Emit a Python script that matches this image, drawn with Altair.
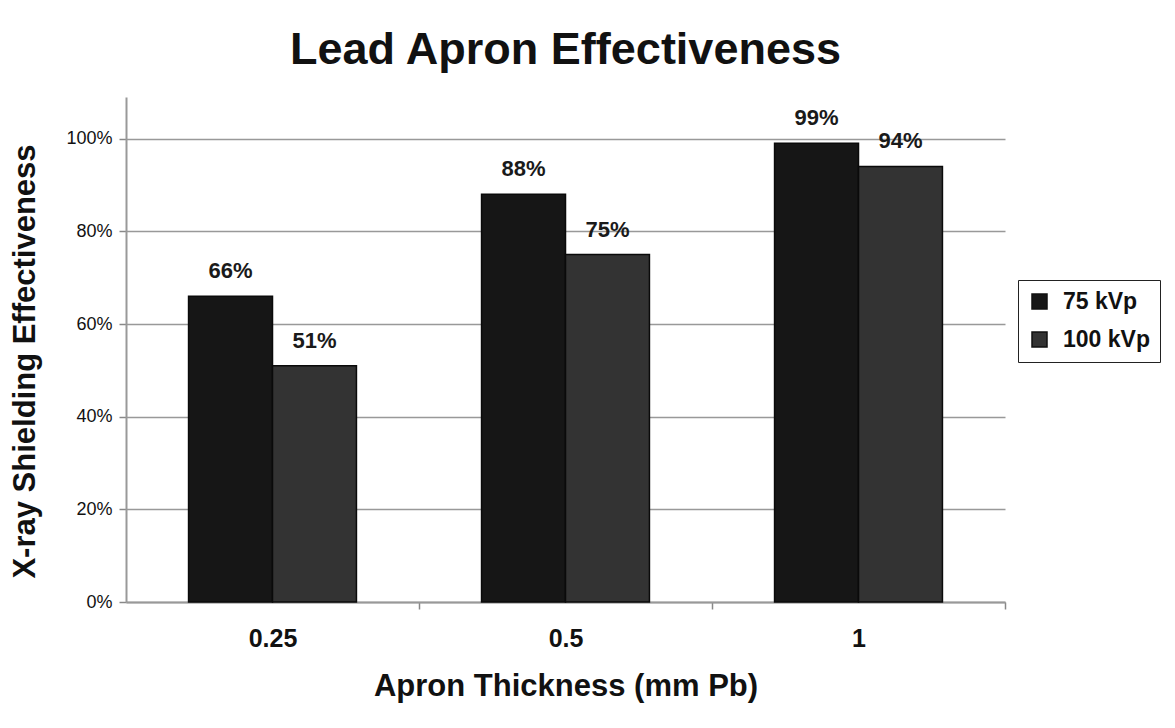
import altair as alt
import pandas as pd

thickness = ["0.25", "0.5", "1"]
series = ["75 kVp", "100 kVp"]
v75 = [0.66, 0.88, 0.99]
v100 = [0.51, 0.75, 0.94]
colors = ["#161616", "#333333"]
y_ticks = [0, 0.2, 0.4, 0.6, 0.8, 1.0]

rows = []
for t, a, b in zip(thickness, v75, v100):
    rows.append({"thickness": t, "series": series[0], "value": a})
    rows.append({"thickness": t, "series": series[1], "value": b})
df = pd.DataFrame(rows)

FONT = "Liberation Sans"
STEP_HALF = 146.5

x = alt.X("thickness:N", sort=thickness,
          scale=alt.Scale(paddingInner=0.427, paddingOuter=0.2135),
          axis=alt.Axis(title="Apron Thickness (mm Pb)", labelAngle=0,
                        labelFontSize=25, labelFontWeight="bold", labelFont=FONT,
                        labelColor="#111", labelPadding=17,
                        titleFontSize=31, titleFont=FONT, titleFontWeight="bold",
                        titleColor="#111", titlePadding=20,
                        tickOffset=STEP_HALF, labelOffset=-STEP_HALF,
                        tickSize=7, tickColor="#888", tickWidth=1.5,
                        domainColor="#999", domainWidth=2))
xo = alt.XOffset("series:N", sort=series, scale=alt.Scale(paddingInner=0, paddingOuter=0))
y = alt.Y("value:Q", scale=alt.Scale(domain=[0, 1.09], nice=False),
          axis=alt.Axis(title="X-ray Shielding Effectiveness", format=".0%", values=y_ticks,
                        labelFontSize=18, labelFont=FONT, labelColor="#111", labelPadding=7,
                        titleFontSize=31, titleFont=FONT, titleFontWeight="bold",
                        titleColor="#111", titleX=-85, titleY=264,
                        tickSize=7, tickColor="#888", tickWidth=1.5,
                        domainColor="#999", domainWidth=2,
                        grid=True, gridColor="#999", gridWidth=1.5))

bars = alt.Chart(df).mark_bar(stroke="#0a0a0a", strokeWidth=1.5).encode(
    x=x, xOffset=xo, y=y,
    color=alt.Color("series:N", sort=series,
                    scale=alt.Scale(domain=series, range=colors),
                    legend=alt.Legend(title=None, orient="none", legendX=892, legendY=183,
                                      strokeColor="#222", padding=10,
                                      fillColor="white",
                                      symbolType="square", symbolSize=225,
                                      symbolStrokeColor="#111", symbolStrokeWidth=1.5,
                                      labelFontSize=23, labelFont=FONT, labelFontWeight="bold",
                                      labelColor="#111", labelOffset=12, rowPadding=14)),
)

labels = alt.Chart(df).mark_text(baseline="middle", dy=-25, fontSize=22, font=FONT,
                                 fontWeight="bold", color="#1a1a1a").encode(
    x=alt.X("thickness:N", sort=thickness), xOffset=alt.XOffset("series:N", sort=series), y="value:Q",
    text=alt.Text("value:Q", format=".0%"),
)

chart = alt.layer(bars, labels).properties(
    width=879, height=505,
    padding={"left": 118, "top": 89, "right": 160, "bottom": 110},
    autosize=alt.AutoSizeParams(type="none"),
    title=alt.TitleParams("Lead Apron Effectiveness", fontSize=45, font=FONT,
                          fontWeight="bold", color="#111", anchor="middle", offset=24),
).configure(background="white").configure_view(stroke="transparent", strokeWidth=0)

chart.save("out.html", embed_options={"renderer": "svg", "actions": False})
